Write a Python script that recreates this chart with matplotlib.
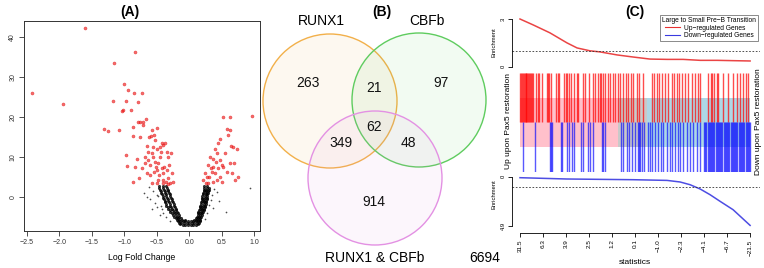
import numpy as np
import matplotlib
matplotlib.use("Agg")
import matplotlib.pyplot as plt
from matplotlib.patches import Circle, Rectangle
from matplotlib.lines import Line2D

plt.rcParams['font.family'] = ['Liberation Sans', 'DejaVu Sans']

# ---------------- data: panel A (volcano) ----------------
red_lfc = [-1.603, -2.413, -1.936, -0.834, -1.152, -1.003, -0.937, -0.844, -0.721, -1.167,
           -0.978, -0.783, -1.014, -0.901, -1.029, -1.311, -1.244, -1.080, -0.790, -0.757,
           -0.716, -0.665, -0.860, -0.706, -0.870, -0.757, -0.619, -0.578, -0.490, -0.588,
           -0.542, -0.655, -0.552, -0.500, -0.450, -0.400, -0.973, -0.809, -0.963, -0.834,
           -0.860, -0.768, -0.680, -0.629, -0.604, -0.578, -0.552, -0.527, -0.511, -0.491,
           -0.475, -0.460, -0.440, -0.424, -0.409, -0.398, -0.383, -0.368, -0.357, -0.347,
           -0.332, -0.322, -0.306, -0.296, -0.286, -0.270, -0.255, -0.500, -0.578, -0.655,
           -0.604, -0.542, -0.450, -0.732, -0.680, -0.630, -0.475, -0.400, -0.320, -0.347,
           -0.424, -0.527,
           0.514, 0.627, 0.960, 0.575, 0.627, 0.601, 0.473, 0.647, 0.678, 0.739,
           0.447, 0.396, 0.422, 0.550, 0.473, 0.627, 0.693, 0.509, 0.370, 0.575,
           0.652, 0.755, 0.703, 0.319, 0.293, 0.242, 0.217, 0.258, 0.309, 0.345,
           0.370, 0.396, 0.422, 0.447, 0.473, 0.370, 0.293, 0.329, 0.268, 0.499,
           0.411, 0.524]
red_b = [42.3, 26.1, 23.2, 36.4, 33.7, 28.2, 26.8, 26.1, 26.1, 24.1,
         24.0, 23.7, 21.8, 21.8, 21.5, 17.0, 16.5, 16.7, 18.8, 18.8,
         18.8, 19.4, 17.6, 18.0, 15.2, 14.9, 14.9, 16.7, 17.2, 15.2,
         15.5, 12.7, 12.6, 12.1, 12.6, 13.0, 10.5, 9.6, 7.8, 7.4,
         3.8, 4.6, 10.0, 9.2, 7.9, 11.0, 10.0, 8.8, 7.5, 6.7,
         8.4, 5.4, 11.3, 7.1, 4.2, 5.9, 7.5, 13.4, 3.8, 6.7,
         10.0, 4.6, 7.9, 3.5, 10.9, 5.9, 3.8, 3.5, 3.5, 5.9,
         5.4, 6.3, 10.0, 7.1, 8.4, 11.3, 4.2, 3.5, 3.3, 11.3,
         13.4, 14.2,
         19.9, 19.9, 20.3, 16.9, 16.7, 15.5, 14.4, 12.7, 12.6, 11.9,
         13.4, 12.1, 10.9, 10.9, 9.2, 8.4, 8.4, 7.9, 9.6, 6.3,
         5.9, 5.0, 4.2, 10.0, 7.9, 5.9, 4.2, 3.5, 5.0, 6.3,
         7.5, 5.9, 4.2, 7.1, 5.0, 3.8, 3.5, 7.1, 5.0, 3.8,
         8.8, 7.5]

# dense core of non-significant genes
black_lfc = [-0.10, -0.06, -0.02, 0.02, 0.06, 0.10, -0.14, 0.13,
             -0.16, -0.12, -0.08, -0.04, 0.0, 0.04, 0.08, 0.12, 0.15,
             -0.18, -0.14, -0.10, -0.06, -0.02, 0.02, 0.06, 0.10, 0.13, 0.16,
             -0.19, -0.15, -0.11, -0.07, 0.07, 0.10, 0.13, 0.16,
             -0.21, -0.17, -0.13, 0.11, 0.14, 0.17,
             -0.23, -0.19, -0.15, 0.12, 0.15, 0.18,
             -0.25, -0.20, -0.16, 0.13, 0.16, 0.19,
             -0.27, -0.22, -0.17, 0.14, 0.17, 0.20,
             -0.29, -0.24, -0.19, 0.14, 0.18, 0.21,
             -0.30, -0.25, -0.20, 0.15, 0.19, 0.22,
             -0.32, -0.27, -0.21, 0.16, 0.20, 0.23,
             -0.33, -0.28, -0.22, 0.17, 0.20, 0.24,
             -0.35, -0.29, -0.23, 0.17, 0.21, 0.24,
             -0.36, -0.30, -0.24, 0.18, 0.22, 0.25,
             -0.37, -0.31, -0.25, 0.18, 0.22, 0.26,
             -0.38, -0.32, -0.26, 0.19, 0.23, 0.26,
             -0.39, -0.33, -0.27, 0.19, 0.23, 0.27,
             -0.40, -0.34, -0.28, 0.20, 0.24, 0.27,
             -0.41, -0.35, -0.29, 0.20, 0.24, 0.28,
             -0.42, -0.36, -0.30, 0.21, 0.25, 0.28,
             -0.43, -0.37, -0.31, 0.21, 0.25, 0.29,
             -0.44, -0.38, -0.32, 0.22, 0.26, 0.29,
             -0.45, -0.39, -0.33, 0.22, 0.26, 0.30,
             -0.46, -0.40, -0.34, 0.23, 0.27, 0.30,
             -0.47, -0.41, -0.35, 0.23, 0.27]
black_b = [-7.0, -7.0, -7.0, -7.0, -7.0, -7.0, -6.9, -6.9,
           -6.6, -6.6, -6.6, -6.6, -6.6, -6.6, -6.6, -6.6, -6.6,
           -6.2, -6.2, -6.2, -6.2, -6.2, -6.2, -6.2, -6.2, -6.2, -6.2,
           -5.8, -5.8, -5.8, -5.8, -5.8, -5.8, -5.8, -5.8,
           -5.4, -5.4, -5.4, -5.4, -5.4, -5.4,
           -5.0, -5.0, -5.0, -5.0, -5.0, -5.0,
           -4.6, -4.6, -4.6, -4.6, -4.6, -4.6,
           -4.2, -4.2, -4.2, -4.2, -4.2, -4.2,
           -3.8, -3.8, -3.8, -3.8, -3.8, -3.8,
           -3.4, -3.4, -3.4, -3.4, -3.4, -3.4,
           -3.0, -3.0, -3.0, -3.0, -3.0, -3.0,
           -2.6, -2.6, -2.6, -2.6, -2.6, -2.6,
           -2.2, -2.2, -2.2, -2.2, -2.2, -2.2,
           -1.8, -1.8, -1.8, -1.8, -1.8, -1.8,
           -1.4, -1.4, -1.4, -1.4, -1.4, -1.4,
           -1.0, -1.0, -1.0, -1.0, -1.0, -1.0,
           -0.6, -0.6, -0.6, -0.6, -0.6, -0.6,
           -0.2, -0.2, -0.2, -0.2, -0.2, -0.2,
           0.2, 0.2, 0.2, 0.2, 0.2, 0.2,
           0.6, 0.6, 0.6, 0.6, 0.6, 0.6,
           1.0, 1.0, 1.0, 1.0, 1.0, 1.0,
           1.4, 1.4, 1.4, 1.4, 1.4, 1.4,
           1.8, 1.8, 1.8, 1.8, 1.8, 1.8,
           2.2, 2.2, 2.2, 2.2, 2.2, 2.2,
           2.6, 2.6, 2.6, 2.6, 2.6]
# scattered outliers of non-significant genes
sparse_lfc = [-0.55, -0.60, -0.50, -0.45, -0.62, -0.50, -0.42, -0.36, 0.30, 0.35,
              0.38, 0.28, 0.24, 0.57, 0.94, -0.30, -0.70, 0.45, -0.52, -0.40,
              0.33, 0.31, -0.48, -0.44, -0.58, 0.36, 0.42, -0.65]
sparse_b = [1.5, -0.5, -2.5, -4.5, 2.5, 0.5, -3.2, -5.2, -2.0, 0.5,
            2.0, -4.0, -5.5, -3.8, 2.1, -6.0, 1.0, -1.0, -1.5, -4.0,
            -0.8, 1.5, 0.2, -2.2, -3.0, -2.8, 1.2, 0.0]
volcano_xticks = [-2.5, -2.0, -1.5, -1.0, -0.5, 0.0, 0.5, 1.0]
volcano_yticks = [0, 10, 20, 30, 40]

# ---------------- data: panel B (Venn) ----------------
set_names = ['RUNX1', 'CBFb', 'RUNX1 & CBFb']
# regions: only1, only2, only3, 1&2, 1&3, 2&3, all
region_counts = [263, 97, 914, 21, 349, 48, 62]
outside_count = 6694

# ---------------- data: panel C (barcode plot) ----------------
up_ranks = [0.0, 0.4, 0.8, 1.2, 1.6, 2.0, 2.4, 2.8, 3.2, 3.6, 4.0, 4.4, 4.8, 5.2, 5.6,
            6.8, 7.7, 8.3, 9.4, 11.6, 12.2, 12.8, 13.5, 15.5, 16.4, 17.1,
            19.3, 19.9, 20.6, 21.4, 22.2, 23.6, 24.7, 25.3, 27.5, 28.3,
            30.0, 31.6, 32.6, 33.8, 34.8, 35.2, 36.2, 37.0, 38.1, 39.1, 40.6, 41.3,
            42.7, 43.5, 44.9, 46.0, 47.1, 48.3, 49.3, 50.7, 51.7, 53.6, 57.5, 58.4,
            59.4, 60.6, 61.6, 63.0, 64.2, 66.0, 67.1, 68.1, 69.1, 70.3, 71.7, 73.2,
            74.7, 76.1, 77.3, 78.3, 81.9, 83.0, 83.6, 84.5, 85.5, 86.2, 88.4, 90.6,
            92.7, 94.2, 95.7, 97.1, 98.1, 99.3]
down_ranks = [1.4, 6.5, 13.0, 13.5, 13.9, 17.8, 18.3, 20.3, 21.4, 22.5, 23.6, 26.5, 27.5,
              29.7, 30.6, 31.6, 35.5, 36.2, 37.0, 43.9, 44.9, 46.4, 47.4, 48.8, 50.0,
              51.2, 51.7, 52.2, 52.9, 54.0, 55.5, 56.5, 57.5, 58.7, 60.1, 61.3, 62.3,
              63.8, 65.2, 66.2, 67.4, 68.8, 69.6, 71.0, 72.5, 73.9, 75.3, 76.8, 78.3,
              80.0, 80.5, 81.0, 81.5, 82.0, 82.5, 83.0, 83.5, 84.0, 84.5, 85.0, 85.5,
              86.0, 86.5, 87.0, 87.5, 88.0, 88.5, 89.0, 89.5, 90.0, 90.5, 91.0, 91.5,
              92.0, 92.5, 93.0, 93.5, 94.0, 94.5, 95.0, 95.5, 96.0, 96.5, 97.0, 97.5,
              98.0, 98.5, 99.0, 99.5, 100.0]
band_edges = [0.0, 42.6, 55.0, 100.0]   # pink | grey | lightblue
up_curve_rank = [0, 5.7, 13, 20.4, 24.8, 30.4, 34.8, 42.2, 49.1, 56.5, 63.9, 70.9, 78.3, 85.7, 92.6, 100]
up_curve_enr = [3.0, 2.63, 2.13, 1.5, 1.18, 1.0, 0.93, 0.74, 0.61, 0.48, 0.46, 0.46, 0.40, 0.40, 0.38, 0.36]
down_curve_rank = [0, 20.4, 49.1, 63.9, 69.6, 73.9, 78.3, 82.6, 87.0, 92.6, 100]
down_curve_enr = [0.1, 0.23, 0.3, 0.37, 0.53, 0.8, 1.23, 1.8, 2.47, 3.3, 4.87]
stat_labels = ['31.5', '6.3', '3.9', '2.5', '1.2', '0.1', '-1.0', '-2.3', '-4.1', '-6.7', '-21.5']

# ---------------- figure ----------------
W, H = 764, 268
fig = plt.figure(figsize=(W / 100, H / 100), dpi=100)


def px_axes(x0, y0, x1, y1, **kw):
    return fig.add_axes([x0 / W, 1 - y1 / H, (x1 - x0) / W, (y1 - y0) / H], **kw)


# overlay for Venn and free text
ov = px_axes(0, 0, W, H)
ov.set_xlim(0, W)
ov.set_ylim(H, 0)
ov.axis('off')

# ---------------- Panel A ----------------
axA = px_axes(24, 20.7, 260, 231)
axA.scatter(black_lfc, black_b, s=5, c='black', alpha=0.8, linewidths=0)
axA.scatter(sparse_lfc, sparse_b, s=1.5, c='black', alpha=0.7, linewidths=0)
axA.scatter(red_lfc, red_b, s=5, c='#ee2020', alpha=0.65, linewidths=0.3, edgecolors='#dd0000')
axA.set_xlim(-2.541, 1.088)
axA.set_ylim(-8.6, 44.2)
axA.set_xticks(volcano_xticks)
axA.set_xticklabels([f"{v:.1f}".replace('-', '\u2212') for v in volcano_xticks])
axA.set_yticks(volcano_yticks)
axA.set_yticklabels([str(v) for v in volcano_yticks], rotation=90, va='center')
axA.tick_params(labelsize=5, length=3.5, width=0.6, pad=2, colors='#333333')
for s in axA.spines.values():
    s.set_linewidth(0.7)
    s.set_color('#333333')
axA.set_xlabel('Log Fold Change', fontsize=6.3, labelpad=5)
ov.text(130, 12, '(A)', fontsize=10, fontweight='bold', ha='center', va='center')

# ---------------- Panel B (Venn) ----------------
circ = [((330, 101), '#f2b04a'), ((419, 100), '#5fcc5f'), ((375, 178), '#e391e3')]
for (c, col) in circ:
    ov.add_patch(Circle(c, 67, facecolor=col, alpha=0.08, edgecolor='none'))
    ov.add_patch(Circle(c, 67, facecolor='none', edgecolor=col, linewidth=1.0))
region_pos = [(308, 83), (441, 83), (374, 202), (374, 88), (341, 143), (408, 143), (374, 127)]
for (x, y), n in zip(region_pos, region_counts):
    ov.text(x, y, str(n), fontsize=10, ha='center', va='center', color='#111111')
ov.text(321, 21, set_names[0], fontsize=10, ha='center', va='center')
ov.text(427, 21, set_names[1], fontsize=10, ha='center', va='center')
ov.text(375, 258, set_names[2], fontsize=10, ha='center', va='center')
ov.text(485, 258, str(outside_count), fontsize=10, ha='center', va='center')
ov.text(382, 12, '(B)', fontsize=10, fontweight='bold', ha='center', va='center')

# ---------------- Panel C ----------------
XL = (-3.6, 104.3)
cx0, cx1 = 511.7, 760

# top enrichment
axT = px_axes(cx0, 19, cx1, 66.7)
axT.set_xlim(*XL)
axT.set_ylim(0, 3)
axT.plot(up_curve_rank, up_curve_enr, color='#e83030', lw=1.1, alpha=0.9, clip_on=False)
axT.axhline(1, color='#333333', lw=0.6, ls=(0, (2, 2)))
for k in ['top', 'right', 'bottom']:
    axT.spines[k].set_visible(False)
axT.spines['left'].set_bounds(0, 3)
axT.spines['left'].set_linewidth(0.6)
axT.set_xticks([])
axT.set_yticks([0, 3])
axT.set_yticklabels(['0', '3'], rotation=90, va='center')
axT.tick_params(axis='y', labelsize=4.2, length=3, width=0.6, pad=1)
axT.patch.set_alpha(0)

# barcode
axB = px_axes(cx0, 73, cx1, 171.5)
axB.set_xlim(*XL)
axB.set_ylim(-1, 1)
axB.axis('off')
band_cols = ['#ffc0cb', '#c9c9c9', '#add8e6']
for i, col in enumerate(band_cols):
    axB.add_patch(Rectangle((band_edges[i], -0.5), band_edges[i + 1] - band_edges[i], 1.0,
                            facecolor=col, edgecolor='none', zorder=1))
axB.vlines(up_ranks, 0, 1, colors='#ff0000', lw=1.0, alpha=0.7, zorder=2)
axB.vlines(down_ranks, -1, 0, colors='#0000ff', lw=1.0, alpha=0.65, zorder=2)

# bottom enrichment
axD = px_axes(cx0, 176.7, cx1, 225.7)
axD.set_xlim(*XL)
axD.set_ylim(4.9, 0)
axD.plot(down_curve_rank, down_curve_enr, color='#3a3ae0', lw=1.1, alpha=0.9, clip_on=False)
axD.axhline(1, color='#333333', lw=0.6, ls=(0, (2, 2)))
for k in ['top', 'right', 'bottom']:
    axD.spines[k].set_visible(False)
axD.spines['left'].set_bounds(0, 4.9)
axD.spines['left'].set_linewidth(0.6)
axD.set_xticks([])
axD.set_yticks([0, 4.9])
axD.set_yticklabels(['0', '4.9'], rotation=90, va='center')
axD.tick_params(axis='y', labelsize=4.2, length=3, width=0.6, pad=1)
axD.patch.set_alpha(0)

# statistics axis
axS = px_axes(cx0, 232, cx1, 233)
axS.set_xlim(*XL)
axS.set_yticks([])
for k in ['top', 'right', 'left']:
    axS.spines[k].set_visible(False)
tick_pos = np.linspace(0, 100, len(stat_labels))
axS.spines['bottom'].set_bounds(tick_pos[0], tick_pos[-1])
axS.spines['bottom'].set_linewidth(0.6)
axS.set_xticks(tick_pos)
axS.set_xticklabels([s.replace('-', '\u2212') for s in stat_labels], rotation=90)
axS.tick_params(axis='x', labelsize=4.6, length=3, width=0.6, pad=1.5)
axS.patch.set_alpha(0)

ov.text(635, 263, 'statistics', fontsize=6, ha='center', va='center')
ov.text(494, 42, 'Enrichment', fontsize=4.2, rotation=90, ha='center', va='center')
ov.text(494, 194, 'Enrichment', fontsize=4.2, rotation=90, ha='center', va='center')
ov.text(508, 121, 'Up upon Pax5 restoration', fontsize=6, rotation=90, ha='center', va='center')
ov.text(758, 122, 'Down upon Pax5 restoration', fontsize=6, rotation=90, ha='center', va='center')
ov.text(635, 12, '(C)', fontsize=10, fontweight='bold', ha='center', va='center')

handles = [Line2D([0], [0], color='#e83030', lw=0.8), Line2D([0], [0], color='#3a3ae0', lw=0.8)]
leg = fig.legend(handles, ['Up\u2212regulated Genes', 'Down\u2212regulated Genes'],
                 title='Large to Small Pre\u2212B Transition', loc='upper right',
                 bbox_to_anchor=(758 / W, 1 - 15 / H), fontsize=4.8, title_fontsize=4.8,
                 frameon=True, fancybox=False, borderpad=0.3, labelspacing=0.1,
                 handlelength=2.2, handletextpad=0.6, borderaxespad=0)
leg.get_frame().set_edgecolor('#555555')
leg.get_frame().set_linewidth(0.6)

fig.savefig('out.png', dpi=100)
